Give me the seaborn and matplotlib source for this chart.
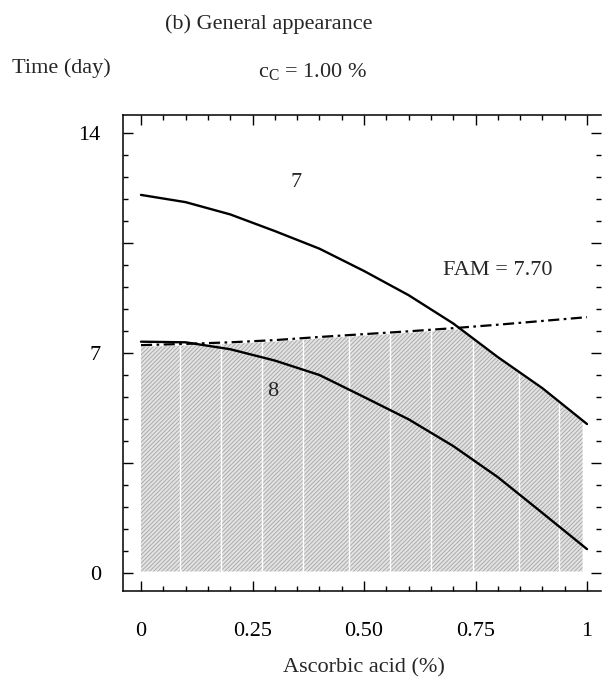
import numpy as np
import pandas as pd
import matplotlib
matplotlib.use("Agg")
import matplotlib.pyplot as plt
import seaborn as sns
from matplotlib.ticker import MultipleLocator, FixedLocator

# ---- data ----
acid = [0.0, 0.1, 0.2, 0.3, 0.4, 0.5, 0.6, 0.7, 0.8, 0.9, 1.0]
curve7 = [12.03, 11.80, 11.41, 10.88, 10.32, 9.61, 8.84, 7.94, 6.87, 5.88, 4.74]
curve8 = [7.36, 7.34, 7.12, 6.76, 6.30, 5.60, 4.89, 4.04, 3.05, 1.91, 0.76]
fam_line = [7.25, 7.29, 7.34, 7.41, 7.51, 7.60, 7.69, 7.79, 7.90, 8.02, 8.14]
xtick_vals = [0, 0.25, 0.5, 0.75, 1.0]
xtick_labels = ["0", "0.25", "0.50", "0.75", "1"]
ytick_vals = [0, 3.5, 7, 10.5, 14]
ytick_labels = ["0", "", "7", "", "14"]
stripe_x = [0.0875, 0.179, 0.271, 0.363, 0.466, 0.558, 0.650, 0.744, 0.847, 0.937]

df = pd.DataFrame({"acid": acid, "c7": curve7, "c8": curve8, "fam": fam_line})

sns.set_theme(style="ticks")
plt.rcParams["font.family"] = ["Liberation Serif", "DejaVu Serif"]
plt.rcParams["mathtext.fontset"] = "custom"
plt.rcParams["mathtext.rm"] = "Liberation Serif"
plt.rcParams["hatch.linewidth"] = 0.6

FS = 16

fig = plt.figure(figsize=(6.02, 6.83), dpi=100)
ax = fig.add_axes([123 / 602, 1 - 591 / 683, (601 - 123) / 602, (591 - 115) / 683])

# shaded feasible region: under the FAM line and under curve 7
xf = np.linspace(0.0, 0.99, 200)
top = np.minimum(np.interp(xf, acid, fam_line), np.interp(xf, acid, curve7)) - 0.05
ax.fill_between(xf, 0.05, top, facecolor="#e2e2e2", edgecolor="#a4a4a4",
                hatch="////////", linewidth=0, zorder=1)
stripe_top = np.minimum(np.interp(stripe_x, acid, fam_line),
                        np.interp(stripe_x, acid, curve7))
ax.vlines(stripe_x, 0.0, stripe_top, color="white", lw=1.0, zorder=1.5)

sns.lineplot(data=df, x="acid", y="c7", color="black", lw=1.7, ax=ax, zorder=3)
sns.lineplot(data=df, x="acid", y="c8", color="black", lw=1.7, ax=ax, zorder=3)
sns.lineplot(data=df, x="acid", y="fam", color="black", lw=1.6, ax=ax, zorder=3,
             linestyle=(0, (5, 2, 1.2, 2)))

ax.set_xlim(-18 / 446, 1 + 14 / 446)
ax.set_ylim(-18 / 31.43, 14 + 18 / 31.43)

ax.xaxis.set_major_locator(FixedLocator(xtick_vals))
ax.set_xticklabels(xtick_labels)
ax.xaxis.set_minor_locator(MultipleLocator(0.05))
ax.yaxis.set_major_locator(FixedLocator(ytick_vals))
ax.set_yticklabels(ytick_labels)
ax.yaxis.set_minor_locator(MultipleLocator(0.7))

ax.tick_params(which="both", direction="in", top=True, right=True,
               color="black", width=1.0, labelsize=FS, labelcolor="black")
ax.tick_params(which="major", length=7)
ax.tick_params(which="minor", length=3.5)
ax.tick_params(axis="x", which="major", pad=22)
ax.tick_params(axis="y", which="major", pad=16)
for s in ["left", "bottom", "top"]:
    ax.spines[s].set_linewidth(1.1)
    ax.spines[s].set_color("black")
ax.spines["right"].set_visible(False)
ax.set_xlabel("")
ax.set_ylabel("")

ax.text(0.348, 12.44, "7", fontsize=FS, ha="center", va="center")
ax.text(0.296, 5.79, "8", fontsize=FS, ha="center", va="center")
ax.text(0.80, 9.64, "FAM = 7.70", fontsize=FS, ha="center", va="center")

fig.text(269 / 602, 1 - 24 / 683, "(b) General appearance", fontsize=FS,
         ha="center", va="center")
fig.text(12 / 602, 1 - 68 / 683, "Time (day)", fontsize=FS, ha="left", va="center")
fig.text(258 / 602, 1 - 72 / 683, r"$\mathregular{c_C}$ = 1.00 %", fontsize=FS,
         ha="left", va="center")
fig.text(364 / 602, 1 - 668 / 683, "Ascorbic acid (%)", fontsize=FS,
         ha="center", va="center")

fig.savefig("out.png", dpi=100)
